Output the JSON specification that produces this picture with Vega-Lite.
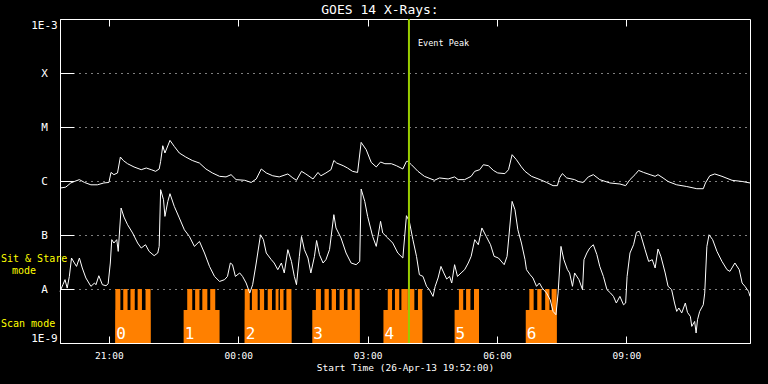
{
  "$schema": "https://vega.github.io/schema/vega-lite/v6.json",
  "background": "black",
  "autosize": {"type": "none"},
  "padding": {"left": 60, "top": 19, "right": 18, "bottom": 41},
  "width": 690,
  "height": 324,
  "title": {"text": "GOES 14 X-Rays:", "color": "white", "fontSize": 13, "fontWeight": "normal", "font": "DejaVu Sans Mono", "anchor": "middle", "dx": -25, "offset": 1},
  "config": {
    "font": "DejaVu Sans Mono",
    "view": {"stroke": "white", "strokeWidth": 1},
    "axis": {"labelColor": "white", "titleColor": "white", "domainColor": "white", "tickColor": "white", "labelFont": "DejaVu Sans Mono", "titleFont": "DejaVu Sans Mono", "titleFontWeight": "normal"}
  },
  "datasets": {
    "scan": [
      {"a": "2013-04-26T21:09Z", "b": "2013-04-26T21:58Z", "f": 4.1e-9},
      {"a": "2013-04-26T22:44Z", "b": "2013-04-26T23:34Z", "f": 4.1e-9},
      {"a": "2013-04-27T00:09Z", "b": "2013-04-27T01:14Z", "f": 4.1e-9},
      {"a": "2013-04-27T01:43Z", "b": "2013-04-27T02:49Z", "f": 4.1e-9},
      {"a": "2013-04-27T03:22Z", "b": "2013-04-27T04:16Z", "f": 4.1e-9},
      {"a": "2013-04-27T05:01Z", "b": "2013-04-27T05:35Z", "f": 4.1e-9},
      {"a": "2013-04-27T06:40Z", "b": "2013-04-27T07:23Z", "f": 4.1e-9},
      {"a": "2013-04-26T21:09Z", "b": "2013-04-26T21:16Z", "f": 1e-8},
      {"a": "2013-04-26T21:20Z", "b": "2013-04-26T21:26Z", "f": 1e-8},
      {"a": "2013-04-26T21:30Z", "b": "2013-04-26T21:36Z", "f": 1e-8},
      {"a": "2013-04-26T21:40Z", "b": "2013-04-26T21:46Z", "f": 1e-8},
      {"a": "2013-04-26T21:51Z", "b": "2013-04-26T21:58Z", "f": 1e-8},
      {"a": "2013-04-26T22:49Z", "b": "2013-04-26T22:56Z", "f": 1e-8},
      {"a": "2013-04-26T23:00Z", "b": "2013-04-26T23:06Z", "f": 1e-8},
      {"a": "2013-04-26T23:10Z", "b": "2013-04-26T23:17Z", "f": 1e-8},
      {"a": "2013-04-26T23:21Z", "b": "2013-04-26T23:28Z", "f": 1e-8},
      {"a": "2013-04-27T00:09Z", "b": "2013-04-27T00:16Z", "f": 1e-8},
      {"a": "2013-04-27T00:19Z", "b": "2013-04-27T00:27Z", "f": 1e-8},
      {"a": "2013-04-27T00:30Z", "b": "2013-04-27T00:36Z", "f": 1e-8},
      {"a": "2013-04-27T00:41Z", "b": "2013-04-27T00:47Z", "f": 1e-8},
      {"a": "2013-04-27T00:52Z", "b": "2013-04-27T00:56Z", "f": 1e-8},
      {"a": "2013-04-27T00:58Z", "b": "2013-04-27T01:03Z", "f": 1e-8},
      {"a": "2013-04-27T01:07Z", "b": "2013-04-27T01:14Z", "f": 1e-8},
      {"a": "2013-04-27T01:48Z", "b": "2013-04-27T01:55Z", "f": 1e-8},
      {"a": "2013-04-27T02:00Z", "b": "2013-04-27T02:06Z", "f": 1e-8},
      {"a": "2013-04-27T02:10Z", "b": "2013-04-27T02:16Z", "f": 1e-8},
      {"a": "2013-04-27T02:21Z", "b": "2013-04-27T02:27Z", "f": 1e-8},
      {"a": "2013-04-27T02:32Z", "b": "2013-04-27T02:38Z", "f": 1e-8},
      {"a": "2013-04-27T02:42Z", "b": "2013-04-27T02:49Z", "f": 1e-8},
      {"a": "2013-04-27T03:28Z", "b": "2013-04-27T03:34Z", "f": 1e-8},
      {"a": "2013-04-27T03:38Z", "b": "2013-04-27T03:44Z", "f": 1e-8},
      {"a": "2013-04-27T03:47Z", "b": "2013-04-27T03:56Z", "f": 1e-8},
      {"a": "2013-04-27T03:58Z", "b": "2013-04-27T04:05Z", "f": 1e-8},
      {"a": "2013-04-27T04:10Z", "b": "2013-04-27T04:16Z", "f": 1e-8},
      {"a": "2013-04-27T05:07Z", "b": "2013-04-27T05:13Z", "f": 1e-8},
      {"a": "2013-04-27T05:17Z", "b": "2013-04-27T05:23Z", "f": 1e-8},
      {"a": "2013-04-27T05:28Z", "b": "2013-04-27T05:35Z", "f": 1e-8},
      {"a": "2013-04-27T06:45Z", "b": "2013-04-27T06:51Z", "f": 1e-8},
      {"a": "2013-04-27T06:56Z", "b": "2013-04-27T07:02Z", "f": 1e-8},
      {"a": "2013-04-27T07:07Z", "b": "2013-04-27T07:13Z", "f": 1e-8},
      {"a": "2013-04-27T07:16Z", "b": "2013-04-27T07:23Z", "f": 1e-8}
    ],
    "labels": [
      {"a": "2013-04-26T21:09Z", "n": "0"},
      {"a": "2013-04-26T22:44Z", "n": "1"},
      {"a": "2013-04-27T00:09Z", "n": "2"},
      {"a": "2013-04-27T01:43Z", "n": "3"},
      {"a": "2013-04-27T03:22Z", "n": "4"},
      {"a": "2013-04-27T05:01Z", "n": "5"},
      {"a": "2013-04-27T06:40Z", "n": "6"}
    ],
    "upper": [
      {"t":"2013-04-26T19:52Z","f":7.4e-7},{"t":"2013-04-26T20:00Z","f":7.7e-7},{"t":"2013-04-26T20:07Z","f":9.2e-7},{"t":"2013-04-26T20:12Z","f":9.8e-7},{"t":"2013-04-26T20:19Z","f":1.06e-6},{"t":"2013-04-26T20:26Z","f":9.4e-7},{"t":"2013-04-26T20:35Z","f":8.5e-7},{"t":"2013-04-26T20:44Z","f":8.5e-7},{"t":"2013-04-26T20:53Z","f":9.2e-7},{"t":"2013-04-26T21:00Z","f":9.4e-7},
      {"t":"2013-04-26T21:03Z","f":1.44e-6},{"t":"2013-04-26T21:07Z","f":1.31e-6},{"t":"2013-04-26T21:12Z","f":1.41e-6},{"t":"2013-04-26T21:16Z","f":2.78e-6},{"t":"2013-04-26T21:20Z","f":2.4e-6},{"t":"2013-04-26T21:26Z","f":2.09e-6},{"t":"2013-04-26T21:35Z","f":1.82e-6},{"t":"2013-04-26T21:45Z","f":1.62e-6},{"t":"2013-04-26T21:52Z","f":1.74e-6},{"t":"2013-04-26T21:59Z","f":1.62e-6},
      {"t":"2013-04-26T22:05Z","f":1.51e-6},{"t":"2013-04-26T22:10Z","f":1.67e-6},{"t":"2013-04-26T22:12Z","f":2.31e-6},{"t":"2013-04-26T22:15Z","f":4.5e-6},{"t":"2013-04-26T22:18Z","f":3.3e-6},{"t":"2013-04-26T22:25Z","f":5.65e-6},{"t":"2013-04-26T22:31Z","f":4.37e-6},{"t":"2013-04-26T22:38Z","f":3.3e-6},{"t":"2013-04-26T22:47Z","f":2.78e-6},{"t":"2013-04-26T22:56Z","f":2.4e-6},
      {"t":"2013-04-26T23:06Z","f":2.15e-6},{"t":"2013-04-26T23:15Z","f":1.67e-6},{"t":"2013-04-26T23:24Z","f":1.41e-6},{"t":"2013-04-26T23:34Z","f":1.22e-6},{"t":"2013-04-26T23:43Z","f":1.19e-6},{"t":"2013-04-26T23:50Z","f":1.31e-6},{"t":"2013-04-26T23:57Z","f":1.06e-6},{"t":"2013-04-27T00:09Z","f":1.03e-6},{"t":"2013-04-27T00:18Z","f":9.4e-7},{"t":"2013-04-27T00:25Z","f":1.09e-6},
      {"t":"2013-04-27T00:32Z","f":1.67e-6},{"t":"2013-04-27T00:39Z","f":1.41e-6},{"t":"2013-04-27T00:48Z","f":1.25e-6},{"t":"2013-04-27T00:57Z","f":1.19e-6},{"t":"2013-04-27T01:09Z","f":1.35e-6},{"t":"2013-04-27T01:16Z","f":1.14e-6},{"t":"2013-04-27T01:21Z","f":1.03e-6},{"t":"2013-04-27T01:28Z","f":1.51e-6},{"t":"2013-04-27T01:34Z","f":1.35e-6},{"t":"2013-04-27T01:44Z","f":1.09e-6},
      {"t":"2013-04-27T01:51Z","f":1.44e-6},{"t":"2013-04-27T01:55Z","f":1.25e-6},{"t":"2013-04-27T02:02Z","f":1.41e-6},{"t":"2013-04-27T02:09Z","f":1.62e-6},{"t":"2013-04-27T02:13Z","f":2.4e-6},{"t":"2013-04-27T02:17Z","f":2.15e-6},{"t":"2013-04-27T02:26Z","f":1.92e-6},{"t":"2013-04-27T02:32Z","f":1.74e-6},{"t":"2013-04-27T02:39Z","f":1.51e-6},{"t":"2013-04-27T02:46Z","f":1.44e-6},
      {"t":"2013-04-27T02:51Z","f":5.19e-6},{"t":"2013-04-27T02:58Z","f":3.8e-6},{"t":"2013-04-27T03:05Z","f":2.21e-6},{"t":"2013-04-27T03:12Z","f":1.82e-6},{"t":"2013-04-27T03:18Z","f":2.25e-6},{"t":"2013-04-27T03:24Z","f":2.09e-6},{"t":"2013-04-27T03:33Z","f":2.09e-6},{"t":"2013-04-27T03:40Z","f":1.92e-6},{"t":"2013-04-27T03:49Z","f":1.67e-6},{"t":"2013-04-27T03:54Z","f":2.31e-6},
      {"t":"2013-04-27T03:56Z","f":2.31e-6},{"t":"2013-04-27T04:01Z","f":2.0e-6},{"t":"2013-04-27T04:10Z","f":1.51e-6},{"t":"2013-04-27T04:19Z","f":1.22e-6},{"t":"2013-04-27T04:33Z","f":1.03e-6},{"t":"2013-04-27T04:40Z","f":1.14e-6},{"t":"2013-04-27T04:52Z","f":1.09e-6},{"t":"2013-04-27T05:01Z","f":1.19e-6},{"t":"2013-04-27T05:06Z","f":1.06e-6},{"t":"2013-04-27T05:15Z","f":1.06e-6},
      {"t":"2013-04-27T05:24Z","f":1.22e-6},{"t":"2013-04-27T05:29Z","f":1.51e-6},{"t":"2013-04-27T05:36Z","f":1.62e-6},{"t":"2013-04-27T05:41Z","f":2.0e-6},{"t":"2013-04-27T05:48Z","f":1.92e-6},{"t":"2013-04-27T05:55Z","f":1.57e-6},{"t":"2013-04-27T06:01Z","f":1.41e-6},{"t":"2013-04-27T06:11Z","f":1.37e-6},{"t":"2013-04-27T06:16Z","f":1.62e-6},{"t":"2013-04-27T06:21Z","f":3.07e-6},
      {"t":"2013-04-27T06:27Z","f":2.48e-6},{"t":"2013-04-27T06:34Z","f":1.82e-6},{"t":"2013-04-27T06:39Z","f":1.51e-6},{"t":"2013-04-27T06:48Z","f":1.22e-6},{"t":"2013-04-27T07:00Z","f":1.06e-6},{"t":"2013-04-27T07:09Z","f":9.4e-7},{"t":"2013-04-27T07:18Z","f":8.2e-7},{"t":"2013-04-27T07:24Z","f":8.2e-7},{"t":"2013-04-27T07:27Z","f":1.14e-6},{"t":"2013-04-27T07:31Z","f":1.37e-6},
      {"t":"2013-04-27T07:37Z","f":1.14e-6},{"t":"2013-04-27T07:48Z","f":1.06e-6},{"t":"2013-04-27T07:53Z","f":9.8e-7},{"t":"2013-04-27T08:00Z","f":9.4e-7},{"t":"2013-04-27T08:07Z","f":1.19e-6},{"t":"2013-04-27T08:14Z","f":1.31e-6},{"t":"2013-04-27T08:23Z","f":1.06e-6},{"t":"2013-04-27T08:37Z","f":9.2e-7},{"t":"2013-04-27T08:51Z","f":8.8e-7},{"t":"2013-04-27T08:59Z","f":8.2e-7},
      {"t":"2013-04-27T09:05Z","f":1.06e-6},{"t":"2013-04-27T09:12Z","f":1.31e-6},{"t":"2013-04-27T09:17Z","f":1.57e-6},{"t":"2013-04-27T09:24Z","f":1.44e-6},{"t":"2013-04-27T09:33Z","f":1.31e-6},{"t":"2013-04-27T09:40Z","f":1.22e-6},{"t":"2013-04-27T09:44Z","f":1.31e-6},{"t":"2013-04-27T09:51Z","f":1.14e-6},{"t":"2013-04-27T09:58Z","f":9.8e-7},{"t":"2013-04-27T10:10Z","f":8.5e-7},
      {"t":"2013-04-27T10:24Z","f":7.9e-7},{"t":"2013-04-27T10:38Z","f":7.2e-7},{"t":"2013-04-27T10:47Z","f":7.2e-7},{"t":"2013-04-27T10:50Z","f":9.2e-7},{"t":"2013-04-27T10:56Z","f":1.25e-6},{"t":"2013-04-27T11:03Z","f":1.35e-6},{"t":"2013-04-27T11:13Z","f":1.22e-6},{"t":"2013-04-27T11:27Z","f":1.03e-6},{"t":"2013-04-27T11:41Z","f":9.8e-7},{"t":"2013-04-27T11:52Z","f":9.2e-7}
    ],
    "lower": [
      {"t":"2013-04-26T19:52Z","f":9.0e-9},{"t":"2013-04-26T19:56Z","f":1.2e-8},{"t":"2013-04-26T19:59Z","f":1.49e-8},{"t":"2013-04-26T20:02Z","f":1.04e-8},{"t":"2013-04-26T20:05Z","f":1.71e-8},{"t":"2013-04-26T20:08Z","f":3.75e-8},{"t":"2013-04-26T20:12Z","f":3.03e-8},{"t":"2013-04-26T20:15Z","f":2.62e-8},{"t":"2013-04-26T20:19Z","f":3.75e-8},{"t":"2013-04-26T20:23Z","f":2.45e-8},
      {"t":"2013-04-26T20:28Z","f":1.6e-8},{"t":"2013-04-26T20:35Z","f":1.12e-8},{"t":"2013-04-26T20:40Z","f":1.29e-8},{"t":"2013-04-26T20:42Z","f":1.2e-8},{"t":"2013-04-26T20:46Z","f":1.76e-8},{"t":"2013-04-26T20:51Z","f":1.2e-8},{"t":"2013-04-26T20:56Z","f":1.15e-8},{"t":"2013-04-26T20:59Z","f":1.25e-8},{"t":"2013-04-26T21:02Z","f":3.03e-8},{"t":"2013-04-26T21:04Z","f":8.2e-8},
      {"t":"2013-04-26T21:07Z","f":7.1e-8},{"t":"2013-04-26T21:11Z","f":8.2e-8},{"t":"2013-04-26T21:13Z","f":4.97e-8},{"t":"2013-04-26T21:17Z","f":3.16e-7},{"t":"2013-04-26T21:21Z","f":2.15e-7},{"t":"2013-04-26T21:26Z","f":1.55e-7},{"t":"2013-04-26T21:33Z","f":1.09e-7},{"t":"2013-04-26T21:40Z","f":7.1e-8},{"t":"2013-04-26T21:45Z","f":5.74e-8},{"t":"2013-04-26T21:51Z","f":6.6e-8},
      {"t":"2013-04-26T21:56Z","f":4.97e-8},{"t":"2013-04-26T22:03Z","f":4.14e-8},{"t":"2013-04-26T22:08Z","f":4.64e-8},{"t":"2013-04-26T22:10Z","f":6.15e-8},{"t":"2013-04-26T22:12Z","f":6.9e-7},{"t":"2013-04-26T22:16Z","f":4.5e-7},{"t":"2013-04-26T22:18Z","f":2.21e-7},{"t":"2013-04-26T22:22Z","f":4.19e-7},{"t":"2013-04-26T22:25Z","f":5.82e-7},{"t":"2013-04-26T22:31Z","f":3.39e-7},
      {"t":"2013-04-26T22:38Z","f":2.07e-7},{"t":"2013-04-26T22:45Z","f":1.25e-7},{"t":"2013-04-26T22:52Z","f":9.4e-8},{"t":"2013-04-26T22:59Z","f":6.15e-8},{"t":"2013-04-26T23:06Z","f":7.6e-8},{"t":"2013-04-26T23:13Z","f":4.64e-8},{"t":"2013-04-26T23:20Z","f":2.62e-8},{"t":"2013-04-26T23:27Z","f":1.71e-8},{"t":"2013-04-26T23:34Z","f":1.38e-8},{"t":"2013-04-26T23:41Z","f":1.49e-8},
      {"t":"2013-04-26T23:45Z","f":1.71e-8},{"t":"2013-04-26T23:49Z","f":3.03e-8},{"t":"2013-04-26T23:52Z","f":2.82e-8},{"t":"2013-04-26T23:56Z","f":1.71e-8},{"t":"2013-04-27T00:02Z","f":1.98e-8},{"t":"2013-04-27T00:06Z","f":1.71e-8},{"t":"2013-04-27T00:11Z","f":1.29e-8},{"t":"2013-04-27T00:16Z","f":8.4e-9},{"t":"2013-04-27T00:20Z","f":1.2e-8},{"t":"2013-04-27T00:25Z","f":3.03e-8},
      {"t":"2013-04-27T00:31Z","f":1.01e-7},{"t":"2013-04-27T00:35Z","f":8.2e-8},{"t":"2013-04-27T00:39Z","f":4.64e-8},{"t":"2013-04-27T00:46Z","f":3.49e-8},{"t":"2013-04-27T00:50Z","f":3.03e-8},{"t":"2013-04-27T00:55Z","f":2.28e-8},{"t":"2013-04-27T01:00Z","f":3.03e-8},{"t":"2013-04-27T01:04Z","f":1.98e-8},{"t":"2013-04-27T01:09Z","f":5.35e-8},{"t":"2013-04-27T01:14Z","f":3.24e-8},
      {"t":"2013-04-27T01:18Z","f":1.71e-8},{"t":"2013-04-27T01:21Z","f":1.2e-8},{"t":"2013-04-27T01:25Z","f":4.02e-8},{"t":"2013-04-27T01:28Z","f":9.4e-8},{"t":"2013-04-27T01:32Z","f":5.35e-8},{"t":"2013-04-27T01:37Z","f":3.75e-8},{"t":"2013-04-27T01:41Z","f":1.98e-8},{"t":"2013-04-27T01:46Z","f":4.02e-8},{"t":"2013-04-27T01:49Z","f":7.9e-8},{"t":"2013-04-27T01:53Z","f":4.32e-8},
      {"t":"2013-04-27T01:58Z","f":3.03e-8},{"t":"2013-04-27T02:02Z","f":3.49e-8},{"t":"2013-04-27T02:07Z","f":5.35e-8},{"t":"2013-04-27T02:13Z","f":2.38e-7},{"t":"2013-04-27T02:16Z","f":1.35e-7},{"t":"2013-04-27T02:23Z","f":8.8e-8},{"t":"2013-04-27T02:30Z","f":4.64e-8},{"t":"2013-04-27T02:37Z","f":3.03e-8},{"t":"2013-04-27T02:44Z","f":2.82e-8},{"t":"2013-04-27T02:49Z","f":3.24e-8},
      {"t":"2013-04-27T02:51Z","f":7.1e-7},{"t":"2013-04-27T02:56Z","f":4.19e-7},{"t":"2013-04-27T03:00Z","f":2.21e-7},{"t":"2013-04-27T03:07Z","f":9.4e-8},{"t":"2013-04-27T03:12Z","f":6.15e-8},{"t":"2013-04-27T03:18Z","f":1.79e-7},{"t":"2013-04-27T03:21Z","f":1.09e-7},{"t":"2013-04-27T03:28Z","f":8.8e-8},{"t":"2013-04-27T03:35Z","f":7.1e-8},{"t":"2013-04-27T03:42Z","f":4.64e-8},
      {"t":"2013-04-27T03:49Z","f":3.75e-8},{"t":"2013-04-27T03:54Z","f":2.28e-7},{"t":"2013-04-27T03:58Z","f":1.79e-7},{"t":"2013-04-27T04:03Z","f":8.2e-8},{"t":"2013-04-27T04:08Z","f":4.02e-8},{"t":"2013-04-27T04:12Z","f":1.84e-8},{"t":"2013-04-27T04:17Z","f":1.71e-8},{"t":"2013-04-27T04:22Z","f":1.12e-8},{"t":"2013-04-27T04:26Z","f":9.7e-9},{"t":"2013-04-27T04:31Z","f":7.3e-9},
      {"t":"2013-04-27T04:34Z","f":1.12e-8},{"t":"2013-04-27T04:38Z","f":1.6e-8},{"t":"2013-04-27T04:42Z","f":2.62e-8},{"t":"2013-04-27T04:46Z","f":1.98e-8},{"t":"2013-04-27T04:50Z","f":1.53e-8},{"t":"2013-04-27T04:54Z","f":1.71e-8},{"t":"2013-04-27T04:57Z","f":1.29e-8},{"t":"2013-04-27T05:01Z","f":2.82e-8},{"t":"2013-04-27T05:05Z","f":1.71e-8},{"t":"2013-04-27T05:10Z","f":1.98e-8},
      {"t":"2013-04-27T05:15Z","f":2.28e-8},{"t":"2013-04-27T05:20Z","f":3.03e-8},{"t":"2013-04-27T05:24Z","f":4.02e-8},{"t":"2013-04-27T05:29Z","f":8.2e-8},{"t":"2013-04-27T05:34Z","f":6.6e-8},{"t":"2013-04-27T05:39Z","f":1.35e-7},{"t":"2013-04-27T05:45Z","f":9.4e-8},{"t":"2013-04-27T05:51Z","f":6.6e-8},{"t":"2013-04-27T05:56Z","f":4.02e-8},{"t":"2013-04-27T06:02Z","f":3.75e-8},
      {"t":"2013-04-27T06:10Z","f":2.82e-8},{"t":"2013-04-27T06:14Z","f":4.02e-8},{"t":"2013-04-27T06:21Z","f":4.19e-7},{"t":"2013-04-27T06:25Z","f":2.94e-7},{"t":"2013-04-27T06:29Z","f":1.25e-7},{"t":"2013-04-27T06:34Z","f":7.1e-8},{"t":"2013-04-27T06:39Z","f":3.49e-8},{"t":"2013-04-27T06:41Z","f":2.28e-8},{"t":"2013-04-27T06:46Z","f":1.84e-8},{"t":"2013-04-27T06:50Z","f":1.6e-8},
      {"t":"2013-04-27T06:55Z","f":1.12e-8},{"t":"2013-04-27T06:59Z","f":1.29e-8},{"t":"2013-04-27T07:03Z","f":1.04e-8},{"t":"2013-04-27T07:09Z","f":8.4e-9},{"t":"2013-04-27T07:14Z","f":6.3e-9},{"t":"2013-04-27T07:18Z","f":3.85e-9},{"t":"2013-04-27T07:22Z","f":3.34e-9},{"t":"2013-04-27T07:25Z","f":8.4e-9},{"t":"2013-04-27T07:29Z","f":6.15e-8},{"t":"2013-04-27T07:33Z","f":3.49e-8},
      {"t":"2013-04-27T07:38Z","f":2.28e-8},{"t":"2013-04-27T07:41Z","f":1.98e-8},{"t":"2013-04-27T07:45Z","f":1.12e-8},{"t":"2013-04-27T07:48Z","f":1.98e-8},{"t":"2013-04-27T07:54Z","f":1.49e-8},{"t":"2013-04-27T07:59Z","f":9.7e-9},{"t":"2013-04-27T08:01Z","f":3.49e-8},{"t":"2013-04-27T08:05Z","f":4.64e-8},{"t":"2013-04-27T08:09Z","f":5.74e-8},{"t":"2013-04-27T08:14Z","f":6.6e-8},
      {"t":"2013-04-27T08:19Z","f":4.32e-8},{"t":"2013-04-27T08:23Z","f":2.62e-8},{"t":"2013-04-27T08:28Z","f":1.71e-8},{"t":"2013-04-27T08:33Z","f":9.7e-9},{"t":"2013-04-27T08:38Z","f":8.4e-9},{"t":"2013-04-27T08:42Z","f":7.3e-9},{"t":"2013-04-27T08:46Z","f":5.5e-9},{"t":"2013-04-27T08:51Z","f":7.3e-9},{"t":"2013-04-27T08:56Z","f":5.1e-9},{"t":"2013-04-27T08:59Z","f":5.5e-9},
      {"t":"2013-04-27T09:01Z","f":1.71e-8},{"t":"2013-04-27T09:05Z","f":4.64e-8},{"t":"2013-04-27T09:10Z","f":6.6e-8},{"t":"2013-04-27T09:14Z","f":1.12e-7},{"t":"2013-04-27T09:18Z","f":1.17e-7},{"t":"2013-04-27T09:20Z","f":1.01e-7},{"t":"2013-04-27T09:26Z","f":5.35e-8},{"t":"2013-04-27T09:31Z","f":3.24e-8},{"t":"2013-04-27T09:36Z","f":3.49e-8},{"t":"2013-04-27T09:40Z","f":2.45e-8},
      {"t":"2013-04-27T09:44Z","f":5.5e-8},{"t":"2013-04-27T09:48Z","f":4.02e-8},{"t":"2013-04-27T09:54Z","f":1.98e-8},{"t":"2013-04-27T09:58Z","f":1.12e-8},{"t":"2013-04-27T10:03Z","f":9.7e-9},{"t":"2013-04-27T10:07Z","f":5.5e-9},{"t":"2013-04-27T10:10Z","f":3.85e-9},{"t":"2013-04-27T10:13Z","f":4.45e-9},{"t":"2013-04-27T10:17Z","f":3.6e-9},{"t":"2013-04-27T10:22Z","f":5.5e-9},
      {"t":"2013-04-27T10:25Z","f":3.69e-9},{"t":"2013-04-27T10:29Z","f":3.11e-9},{"t":"2013-04-27T10:31Z","f":2.03e-9},{"t":"2013-04-27T10:35Z","f":2.51e-9},{"t":"2013-04-27T10:37Z","f":1.53e-9},{"t":"2013-04-27T10:39Z","f":2.7e-9},{"t":"2013-04-27T10:42Z","f":3.85e-9},{"t":"2013-04-27T10:47Z","f":5.1e-9},{"t":"2013-04-27T10:49Z","f":8.4e-9},{"t":"2013-04-27T10:52Z","f":6.15e-8},
      {"t":"2013-04-27T10:55Z","f":1.01e-7},{"t":"2013-04-27T11:00Z","f":8.2e-8},{"t":"2013-04-27T11:06Z","f":4.97e-8},{"t":"2013-04-27T11:13Z","f":3.24e-8},{"t":"2013-04-27T11:20Z","f":2.28e-8},{"t":"2013-04-27T11:24Z","f":2.12e-8},{"t":"2013-04-27T11:31Z","f":3.03e-8},{"t":"2013-04-27T11:37Z","f":2.28e-8},{"t":"2013-04-27T11:41Z","f":1.29e-8},{"t":"2013-04-27T11:45Z","f":1.12e-8},
      {"t":"2013-04-27T11:50Z","f":9.0e-9},{"t":"2013-04-27T11:52Z","f":7.3e-9}
    ],
    "event": [{"t": "2013-04-27T03:57:30Z", "f": 3.64e-4, "s": "Event Peak"}],
    "notes": [
      {"t": "2013-04-26T19:52Z", "f": 3.6e-8, "s": "Sit & Stare"},
      {"t": "2013-04-26T19:52Z", "f": 2.25e-9, "s": "Scan mode"}
    ],
    "notes2": [
      {"t": "2013-04-26T19:52Z", "f": 2.12e-8, "s": "mode"}
    ]
  },
  "layer": [
    {
      "data": {"name": "scan"},
      "mark": {"type": "rect", "color": "#ff8000"},
      "encoding": {
        "x": {"field": "a", "type": "temporal", "scale": {"type": "utc", "domain": [{"year": 2013, "month": 4, "date": 26, "hours": 19, "minutes": 52, "utc": true}, {"year": 2013, "month": 4, "date": 27, "hours": 11, "minutes": 52, "utc": true}]},
          "axis": {"orient": "bottom", "title": "Start Time (26-Apr-13 19:52:00)", "titleFontSize": 9.5, "titlePadding": 3, "labelFontSize": 9.5, "labelPadding": 7, "ticks": false, "format": "%H:%M",
            "grid": true, "gridColor": "white", "gridOpacity": 1, "gridWidth": 1, "gridDash": [7, 310, 7, 0],
            "values": [{"year": 2013, "month": 4, "date": 26, "hours": 21, "utc": true}, {"year": 2013, "month": 4, "date": 27, "hours": 0, "utc": true}, {"year": 2013, "month": 4, "date": 27, "hours": 3, "utc": true}, {"year": 2013, "month": 4, "date": 27, "hours": 6, "utc": true}, {"year": 2013, "month": 4, "date": 27, "hours": 9, "utc": true}]}},
        "x2": {"field": "b"},
        "y": {"field": "f", "type": "quantitative", "scale": {"type": "log", "domain": [1e-9, 1e-3]},
          "axis": {"orient": "left", "title": null, "ticks": false, "values": [1e-9, 1e-8, 1e-7, 1e-6, 1e-5, 1e-4, 1e-3],
            "labelExpr": "datum.value < 3e-9 ? '1E-9' : datum.value < 3e-8 ? 'A' : datum.value < 3e-7 ? 'B' : datum.value < 3e-6 ? 'C' : datum.value < 3e-5 ? 'M' : datum.value < 3e-4 ? 'X' : '1E-3'",
            "labelAlign": "center", "labelPadding": 16, "labelFontSize": 11, "labelFlush": true,
            "grid": true, "gridColor": "white", "gridDash": [14,5,1,5,1,5,1,5,1,5,1,5,1,5,1,5,1,5,1,5,1,5,1,5,1,5,1,5,1,5,1,5,1,5,1,5,1,5,1,5,1,5,1,5,1,5,1,5,1,5,1,5,1,5,1,5,1,5,1,5,1,5,1,5,1,5,1,5,1,5,1,5,1,5,1,5,1,5,1,5,1,5,1,5,1,5,1,5,1,5,1,5,1,5,1,5,1,5,1,5,1,5,1,5,1,5,1,5,1,5,1,5,1,5,1,5,1,5,1,5,1,5,1,5,1,5,1,5,1,5,1,5,1,5,1,5,1,5,1,5,1,5,1,5,1,5,1,5,1,5,1,5,1,5,1,5,1,5,1,5,1,5,1,5,1,5,1,5,1,5,1,5,1,5,1,5,1,5,1,5,1,5,1,5,1,5,1,5,1,5,1,5,1,5,1,5,1,5,1,5,1,5,1,5,1,5,1,5,1,5,1,5,1,5,1,5,1,5,1,5,1,5,1,5,1,5,1,5,1,5,1,5,1,2,14,0], "gridWidth": 1, "gridOpacity": 1}},
        "y2": {"datum": 1e-9}
      }
    },
    {
      "data": {"name": "upper"},
      "mark": {"type": "line", "color": "white", "strokeWidth": 1},
      "encoding": {
        "x": {"field": "t", "type": "temporal"},
        "y": {"field": "f", "type": "quantitative"}
      }
    },
    {
      "data": {"name": "lower"},
      "mark": {"type": "line", "color": "white", "strokeWidth": 1},
      "encoding": {
        "x": {"field": "t", "type": "temporal"},
        "y": {"field": "f", "type": "quantitative"}
      }
    },
    {
      "data": {"name": "event"},
      "mark": {"type": "rule", "color": "#99cc00", "strokeWidth": 2},
      "encoding": {"x": {"field": "t", "type": "temporal"}}
    },
    {
      "data": {"name": "event"},
      "mark": {"type": "text", "color": "white", "align": "left", "baseline": "middle", "dx": 9, "fontSize": 8.5},
      "encoding": {"x": {"field": "t", "type": "temporal"}, "y": {"field": "f", "type": "quantitative"}, "text": {"field": "s"}}
    },
    {
      "data": {"name": "labels"},
      "mark": {"type": "text", "color": "white", "align": "left", "baseline": "alphabetic", "dx": 1, "dy": -4, "fontSize": 16},
      "encoding": {"x": {"field": "a", "type": "temporal"}, "y": {"datum": 1e-9}, "text": {"field": "n"}}
    },
    {
      "data": {"name": "notes"},
      "mark": {"type": "text", "color": "#ffff00", "align": "left", "baseline": "middle", "dx": -59, "fontSize": 10},
      "encoding": {"x": {"field": "t", "type": "temporal"}, "y": {"field": "f", "type": "quantitative"}, "text": {"field": "s"}}
    },
    {
      "data": {"name": "notes2"},
      "mark": {"type": "text", "color": "#ffff00", "align": "left", "baseline": "middle", "dx": -48, "fontSize": 10},
      "encoding": {"x": {"field": "t", "type": "temporal"}, "y": {"field": "f", "type": "quantitative"}, "text": {"field": "s"}}
    }
  ]
}
